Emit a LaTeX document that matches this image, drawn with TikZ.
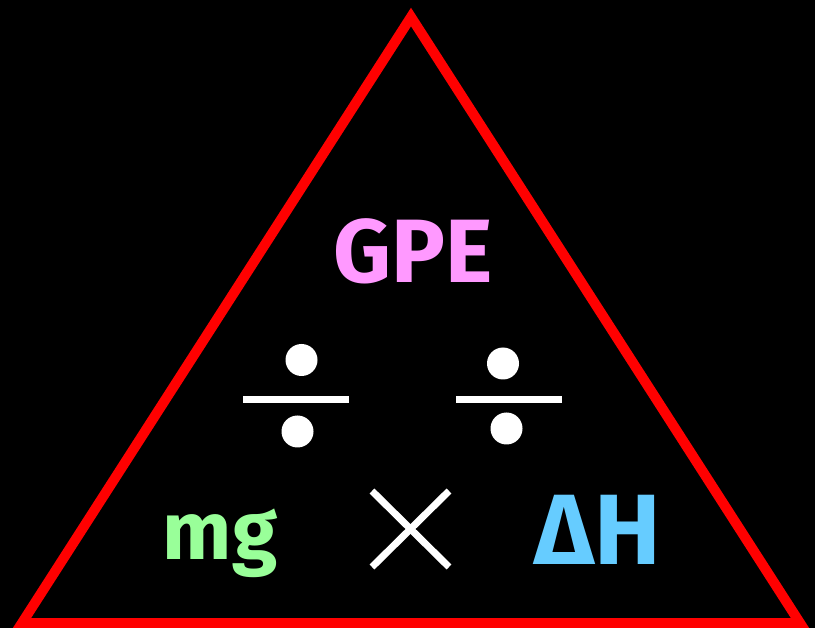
\documentclass[tikz,border=0pt]{standalone}
\usepackage{fontspec}
\setmainfont{Fira Sans}
\definecolor{tri}{HTML}{FF0000}
\definecolor{gpe}{HTML}{FF99FF}
\definecolor{mgc}{HTML}{99FF99}
\definecolor{dhc}{HTML}{66CCFF}
\begin{document}
\begin{tikzpicture}[x=1pt,y=-1pt,
  lbl/.style={font=\bfseries\fontsize{90}{90}\selectfont, inner sep=0pt, anchor=base},
  dot/.style={fill=white, circle, minimum size=32pt, inner sep=0pt},
  bar/.style={fill=white, draw=none},
  crossline/.style={draw=white, line width=7pt}]
\fill[black] (0,0) rectangle (815,628);
\useasboundingbox (0,0) rectangle (815,628);
% triangle
\coordinate (A) at (411,17);
\coordinate (B) at (22,623);
\coordinate (C) at (800,623);
\draw[tri, line width=10pt, line join=miter] (A) -- (B) -- (C) -- cycle;
% labels
\node[lbl, text=gpe] (gpe) at (413,283) {GPE};
\node[lbl, text=mgc, font=\bfseries\fontsize{82}{82}\selectfont] (mg) at (220,560) {mg};
\node[lbl, text=dhc, font=\bfseries\fontsize{100}{100}\selectfont] (dh) at (598,565) {ΔH};
% divide signs
\fill[bar] (243,396.5) rectangle (349,403.5);
\node[dot] (d1t) at (301.5,360) {};
\node[dot] (d1b) at (297.5,431.5) {};
\fill[bar] (456,396.5) rectangle (562,403.5);
\node[dot] (d2t) at (503,363.5) {};
\node[dot] (d2b) at (506.5,428.5) {};
% times sign
\coordinate (x1) at (372,491);
\coordinate (x2) at (449,567);
\coordinate (x3) at (449,491);
\coordinate (x4) at (372,567);
\draw[crossline] (x1) -- (x2);
\draw[crossline] (x3) -- (x4);
\end{tikzpicture}
\end{document}
